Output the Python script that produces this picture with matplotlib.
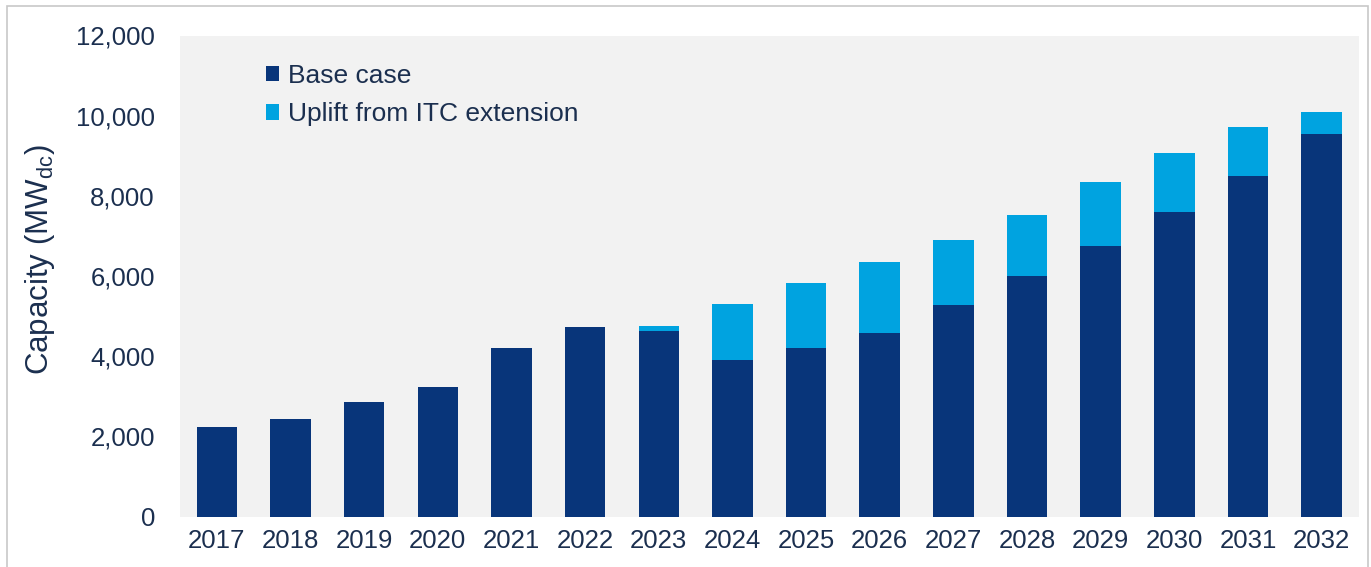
import numpy as np
import matplotlib.pyplot as plt
from matplotlib.patches import Rectangle

plt.rcParams['font.family'] = ['Liberation Sans', 'DejaVu Sans']

years = [str(y) for y in range(2017, 2033)]
base_case = [2240, 2420, 2860, 3240, 4210, 4730, 4640, 3900,
             4200, 4580, 5265, 5995, 6745, 7590, 8495, 9540]
with_itc = [2240, 2420, 2860, 3240, 4210, 4730, 4760, 5290,
            5830, 6350, 6890, 7530, 8340, 9075, 9720, 10095]
uplift = [t - b for t, b in zip(with_itc, base_case)]

DARK = '#08357A'
LIGHT = '#00A3E0'
TEXT = '#1B2F4F'

fig = plt.figure(figsize=(13.71, 5.67), dpi=100)
W, H = 1371, 567
ax = fig.add_axes([180 / W, (H - 516.5) / H, 1178.5 / W, 481 / H])
ax.set_facecolor('#F2F2F2')

x = np.arange(len(years))
ax.bar(x, base_case, width=0.55, color=DARK, label='Base case', zorder=2)
ax.bar(x, uplift, width=0.55, bottom=base_case, color=LIGHT,
       label='Uplift from ITC extension', zorder=2)

ax.set_xlim(-0.5, len(years) - 0.5)
ax.set_ylim(0, 12000)
ax.set_yticks(range(0, 12001, 2000))
ax.set_yticklabels([f'{v:,}' for v in range(0, 12001, 2000)])
ax.set_xticks(x, labels=years)
ax.tick_params(axis='both', length=0, labelsize=18.5, labelcolor=TEXT)
ax.tick_params(axis='y', pad=18)
ax.tick_params(axis='x', pad=9)
for s in ax.spines.values():
    s.set_visible(False)

ax.set_ylabel('Capacity (MW$_{\\mathregular{dc}}$)', fontsize=22.5, color=TEXT)
ax.yaxis.set_label_coords(-0.104, 0.535)

leg = ax.legend(loc='upper left', bbox_to_anchor=(0.064, 0.963), frameon=False,
                fontsize=19, handlelength=0.5, handleheight=0.5,
                handletextpad=0.32, labelspacing=0.55, borderaxespad=0)
for t in leg.get_texts():
    t.set_color(TEXT)

# thin frame around the whole figure
fig.patches.append(Rectangle((7 / W, -0.01), (1368 - 7) / W, (H - 6) / H + 0.01,
                             transform=fig.transFigure, fill=False,
                             edgecolor='#C8C8C8', linewidth=1.2))

fig.savefig('out.png', dpi=100)
